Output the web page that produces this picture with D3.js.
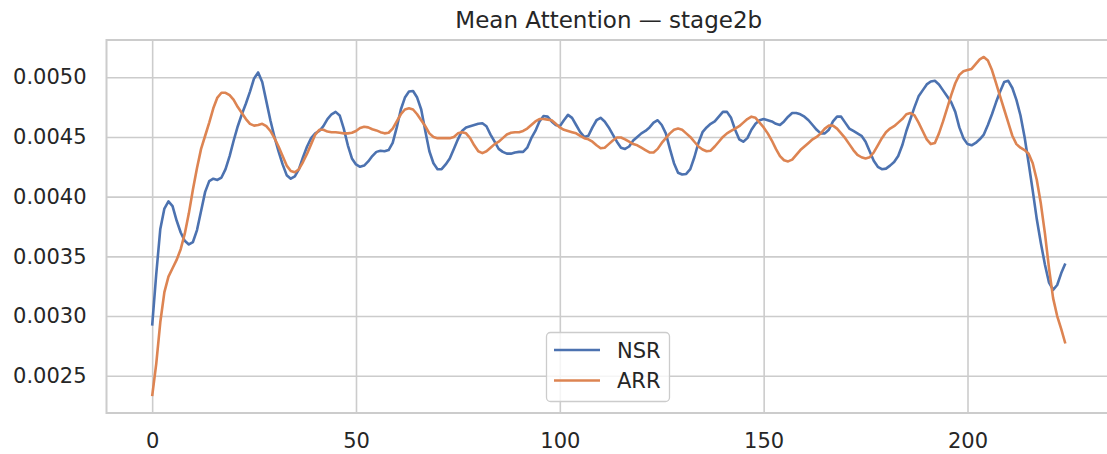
<!DOCTYPE html>
<html>
<head>
<meta charset="utf-8">
<script src="https://cdn.jsdelivr.net/npm/d3@7"></script>
<style>
  html, body { margin: 0; padding: 0; background: #ffffff; }
  svg { display: block; }
  text { font-family: "DejaVu Sans", sans-serif; fill: #262626; }
</style>
</head>
<body>
<svg id="chart" width="1107" height="454"></svg>
<script>
// ---- data (mean attention per position) ----
const title = "Mean Attention — stage2b";
const seriesNames = ["NSR", "ARR"];
const xTicks = [0, 50, 100, 150, 200];
const yTicks = [0.0025, 0.0030, 0.0035, 0.0040, 0.0045, 0.0050];

const nsr = [
0.00292,0.00335,0.00373,0.00390,0.00396,0.00392,0.00380,0.00370,0.00363,0.00360,
0.00362,0.00372,0.00388,0.00404,0.00413,0.00415,0.00414,0.00416,0.00423,0.00434,
0.00447,0.00459,0.00469,0.00478,0.00488,0.00499,0.00504,0.00496,0.00480,0.00464,
0.00450,0.00438,0.00427,0.00418,0.00415,0.00417,0.00423,0.00433,0.00442,0.00449,
0.00453,0.00455,0.00459,0.00465,0.00469,0.00471,0.00468,0.00457,0.00443,0.00432,
0.00427,0.00425,0.00426,0.004295,0.00434,0.004375,0.004385,0.00438,0.00439,0.00445,
0.00458,0.00473,0.00483,0.00488,0.004885,0.00483,0.00473,0.00455,0.00438,0.00428,
0.00423,0.00423,0.00427,0.00432,0.00440,0.00448,0.00455,0.00458,0.00459,0.00460,
0.00461,0.004615,0.00459,0.00452,0.00446,0.00440,0.004375,0.00436,0.00436,0.00437,
0.004375,0.004375,0.00441,0.00449,0.00455,0.00463,0.004675,0.00467,0.00463,0.00460,
0.00459,0.00464,0.004685,0.00466,0.00460,0.00454,0.00450,0.00451,0.00458,0.00464,
0.00466,0.00463,0.00458,0.00452,0.00446,0.00441,0.00440,0.00442,0.00447,0.00450,
0.00453,0.00455,0.00458,0.00462,0.00464,0.00460,0.00453,0.00440,0.00428,0.00420,
0.004185,0.00419,0.00423,0.00433,0.00445,0.00454,0.00458,0.00461,0.00463,0.00467,
0.00471,0.00471,0.00466,0.00456,0.00448,0.00446,0.00449,0.00456,0.00461,0.00464,
0.00465,0.00464,0.00463,0.00461,0.00460,0.00463,0.00467,0.00470,0.00470,0.00469,
0.00467,0.00464,0.00460,0.00456,0.00453,0.00453,0.00456,0.00463,0.00467,0.00467,
0.00462,0.00457,0.00455,0.00453,0.00451,0.00446,0.00438,0.00430,0.00425,0.00423,
0.004235,0.00426,0.00429,0.00434,0.00443,0.00455,0.00465,0.00475,0.00484,0.00489,
0.00494,0.004965,0.00497,0.00494,0.00489,0.00484,0.00479,0.00471,0.00458,0.00449,
0.00444,0.00443,0.00445,0.00448,0.00452,0.00460,0.00469,0.00479,0.00488,0.00496,
0.00497,0.00491,0.00481,0.00468,0.00450,0.00428,0.00405,0.00381,0.00361,0.00343,
0.00328,0.00322,0.00326,0.00336,0.00344
];

const arr = [
0.00233,0.00260,0.00295,0.00320,0.00333,0.00340,0.00347,0.00356,0.00369,0.00386,
0.00406,0.00424,0.00440,0.00451,0.00462,0.00474,0.00483,0.00487,0.00487,0.00485,
0.00481,0.00475,0.00470,0.00465,0.00461,0.004595,0.00460,0.00461,0.00459,0.00455,
0.00449,0.00442,0.00434,0.00426,0.004215,0.004205,0.00423,0.00429,0.00436,0.00444,
0.00452,0.00456,0.00456,0.004545,0.00454,0.00454,0.004535,0.00453,0.00453,0.004535,
0.00455,0.004575,0.004585,0.00458,0.004565,0.004555,0.00454,0.00453,0.004535,0.00457,
0.00463,0.00469,0.00473,0.00474,0.00473,0.00469,0.00464,0.00459,0.00453,0.00450,
0.00449,0.00449,0.00449,0.00449,0.00450,0.00453,0.00454,0.00453,0.00449,0.00443,
0.00438,0.004365,0.00438,0.00441,0.00444,0.00446,0.00449,0.00452,0.004535,0.00454,
0.00454,0.00455,0.00457,0.00460,0.00463,0.00465,0.00465,0.004645,0.00464,0.00461,
0.00458,0.00456,0.00455,0.00454,0.00453,0.00451,0.00449,0.00448,0.00446,0.00443,
0.004405,0.00441,0.00444,0.00447,0.004495,0.004495,0.00448,0.00446,0.00444,0.00443,
0.00441,0.00439,0.00437,0.00437,0.00440,0.00445,0.00449,0.00453,0.00456,0.00457,
0.00456,0.00453,0.00450,0.00446,0.00442,0.004395,0.00438,0.004385,0.00442,0.00446,
0.00450,0.00453,0.00455,0.00457,0.00459,0.00462,0.00465,0.00467,0.00466,0.00462,
0.00458,0.00453,0.00447,0.00440,0.00434,0.004305,0.004295,0.00431,0.00435,0.00439,
0.00442,0.00445,0.00448,0.00450,0.00453,0.00457,0.004595,0.004595,0.00457,0.00453,
0.00449,0.00444,0.00439,0.00435,0.00433,0.00432,0.00433,0.00437,0.00443,0.00449,
0.00454,0.00457,0.00459,0.00462,0.00465,0.00469,0.00470,0.00468,0.00462,0.00455,
0.00448,0.00444,0.00445,0.00453,0.00463,0.00474,0.00485,0.00495,0.00502,0.00505,
0.00506,0.00507,0.00511,0.00515,0.00517,0.00514,0.00506,0.00495,0.00484,0.00473,
0.00462,0.00451,0.00444,0.00441,0.00439,0.00436,0.00428,0.00414,0.00394,0.00369,
0.00340,0.00315,0.00300,0.00289,0.00277
];

const positions = nsr.map((_, i) => i);
const series = [
  { name: seriesNames[0], values: nsr, color: "#4c72b0" },
  { name: seriesNames[1], values: arr, color: "#dd8452" }
];

// ---- layout ----
const svg = d3.select("#chart");
const W = 1107, H = 454;
const plot = { left: 106.5, right: 1111, top: 40, bottom: 413 };
const tickFont = 21, titleFont = 23;

const xMin = d3.min(positions), xMax = d3.max(positions);
const xPad = (xMax - xMin) * 0.05;
const all = nsr.concat(arr);
const yMin = d3.min(all), yMax = d3.max(all);
const yPad = (yMax - yMin) * 0.05;

const x = d3.scaleLinear().domain([xMin - xPad, xMax + xPad]).range([plot.left, plot.right]);
const y = d3.scaleLinear().domain([yMin - yPad, yMax + yPad]).range([plot.bottom, plot.top]);

const gridColor = "#cccccc";

// grid via axes
const gx = svg.append("g")
  .attr("transform", `translate(0,${plot.bottom})`)
  .call(d3.axisBottom(x).tickValues(xTicks).tickSize(-(plot.bottom - plot.top)).tickPadding(20).tickFormat(d3.format("d")));
gx.select(".domain").remove();
gx.selectAll(".tick line").attr("stroke", gridColor).attr("stroke-width", 1.6);
gx.selectAll(".tick text").attr("font-size", tickFont).attr("fill", "#262626")
  .attr("font-family", "DejaVu Sans, sans-serif");

const gy = svg.append("g")
  .attr("transform", `translate(${plot.left},0)`)
  .call(d3.axisLeft(y).tickValues(yTicks).tickSize(-(plot.right - plot.left)).tickPadding(20).tickFormat(d3.format(".4f")));
gy.select(".domain").remove();
gy.selectAll(".tick line").attr("stroke", gridColor).attr("stroke-width", 1.6);
gy.selectAll(".tick text").attr("font-size", tickFont).attr("fill", "#262626")
  .attr("font-family", "DejaVu Sans, sans-serif");

// frame
svg.append("rect")
  .attr("x", plot.left).attr("y", plot.top)
  .attr("width", plot.right - plot.left).attr("height", plot.bottom - plot.top)
  .attr("fill", "none").attr("stroke", gridColor).attr("stroke-width", 2);

// lines
const line = d3.line().x((d, i) => x(positions[i])).y(d => y(d)).curve(d3.curveLinear);
svg.append("g").selectAll("path").data(series).join("path")
  .attr("d", s => line(s.values))
  .attr("fill", "none")
  .attr("stroke", s => s.color)
  .attr("stroke-width", 2.6)
  .attr("stroke-linejoin", "round")
  .attr("stroke-linecap", "butt");

// title
svg.append("text")
  .attr("x", (plot.left + plot.right) / 2).attr("y", 28)
  .attr("text-anchor", "middle").attr("font-size", titleFont)
  .text(title);

// legend
const lg = svg.append("g");
lg.append("rect")
  .attr("x", 546.5).attr("y", 332.5).attr("width", 123).attr("height", 69)
  .attr("rx", 4).attr("fill", "#ffffff").attr("fill-opacity", 0.8)
  .attr("stroke", "#cccccc").attr("stroke-width", 1.3);
series.forEach((s, k) => {
  const cy = 350 + k * 30.5;
  lg.append("line").attr("x1", 554).attr("x2", 600).attr("y1", cy).attr("y2", cy)
    .attr("stroke", s.color).attr("stroke-width", 2.6);
  lg.append("text").attr("x", 617).attr("y", cy + 7.6).attr("font-size", tickFont)
    .text(s.name);
});
</script>
</body>
</html>
